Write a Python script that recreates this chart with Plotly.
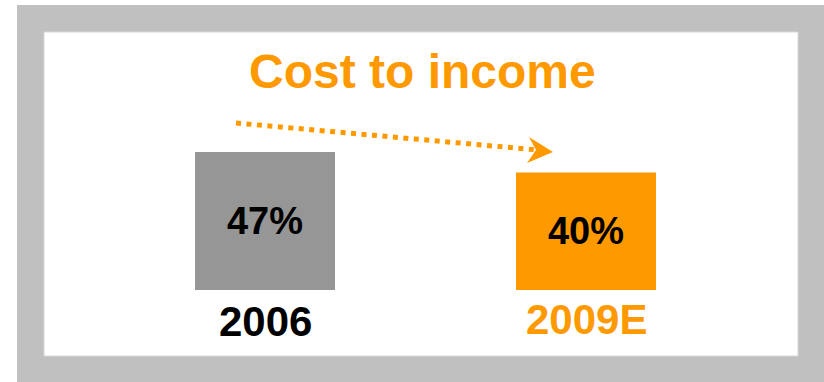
import plotly.graph_objects as go

# Cost-to-income ratio, actual vs. estimate
categories = ["2006", "2009E"]
ratio_pct = [47, 40]
bar_colors = ["#969696", "#FF9900"]
label_colors = ["#000000", "#FF9900"]
title_text = "Cost to income"

W, H = 824, 382
FONT = "Liberation Sans, Arial, sans-serif"
ORANGE = "#FF9900"

# Pixel geometry of the chart area
base_px = 290            # bar baseline (pixel row)
px_per_unit_y = 138 / 47  # vertical scale
cat_px = [265, 586]      # centres of the two categories
px_per_cat = cat_px[1] - cat_px[0]

x_range = [-cat_px[0] / px_per_cat, 1 + (W - cat_px[1]) / px_per_cat]
y_range = [-(H - base_px) / px_per_unit_y, base_px / px_per_unit_y]


def px(x):
    return x / W


def py(y):
    return 1 - y / H


fig = go.Figure()
fig.add_trace(go.Bar(
    x=list(range(len(categories))),
    y=ratio_pct,
    width=140 / px_per_cat,
    marker=dict(color=bar_colors, line=dict(width=0)),
    texttemplate="<b>%{y}%</b>",
    textposition="inside",
    insidetextanchor="middle",
    textfont=dict(family=FONT, size=38, color="#000000"),
    textangle=0,
    hoverinfo="skip",
))

# Category labels under the bars
for i, (cat, col) in enumerate(zip(categories, label_colors)):
    fig.add_annotation(
        x=i, y=0, xref="x", yref="y",
        text=f"<b>{cat}</b>", showarrow=False,
        yanchor="top", yshift=-6 if i == 0 else -4,
        font=dict(family=FONT, size=42, color=col),
    )

shapes = [
    # grey frame and white panel
    dict(type="rect", xref="paper", yref="paper", x0=px(17), x1=px(W), y0=py(H), y1=py(5),
         fillcolor="#C0C0C0", line=dict(width=0), layer="below"),
    dict(type="rect", xref="paper", yref="paper", x0=px(44), x1=px(798), y0=py(356), y1=py(32),
         fillcolor="#FFFFFF", line=dict(color="#D8D8D8", width=1), layer="below"),
    # dotted trend line
    dict(type="line", xref="paper", yref="paper", x0=px(236), y0=py(123), x1=px(538), y1=py(150),
         line=dict(color=ORANGE, width=5, dash="5px,5.5px")),
    # arrow head
    dict(type="path", xref="paper", yref="paper",
         path=(f"M {px(553)},{py(152)} L {px(529)},{py(137)} L {px(536)},{py(150)} "
               f"L {px(527)},{py(163)} Z"),
         fillcolor=ORANGE, line=dict(width=0)),
]

fig.add_annotation(
    x=px(422), y=py(72), xref="paper", yref="paper",
    text=f"<b>{title_text}</b>", showarrow=False,
    xanchor="center", yanchor="middle",
    font=dict(family=FONT, size=48, color=ORANGE),
)

fig.update_layout(
    width=W, height=H,
    margin=dict(l=0, r=0, t=0, b=0),
    paper_bgcolor="#FFFFFF",
    plot_bgcolor="rgba(0,0,0,0)",
    showlegend=False,
    shapes=shapes,
    xaxis=dict(range=x_range, visible=False, fixedrange=True),
    yaxis=dict(range=y_range, visible=False, fixedrange=True),
    uniformtext=dict(minsize=38, mode="show"),
)

fig.write_html("out.html", config={"displayModeBar": False})
